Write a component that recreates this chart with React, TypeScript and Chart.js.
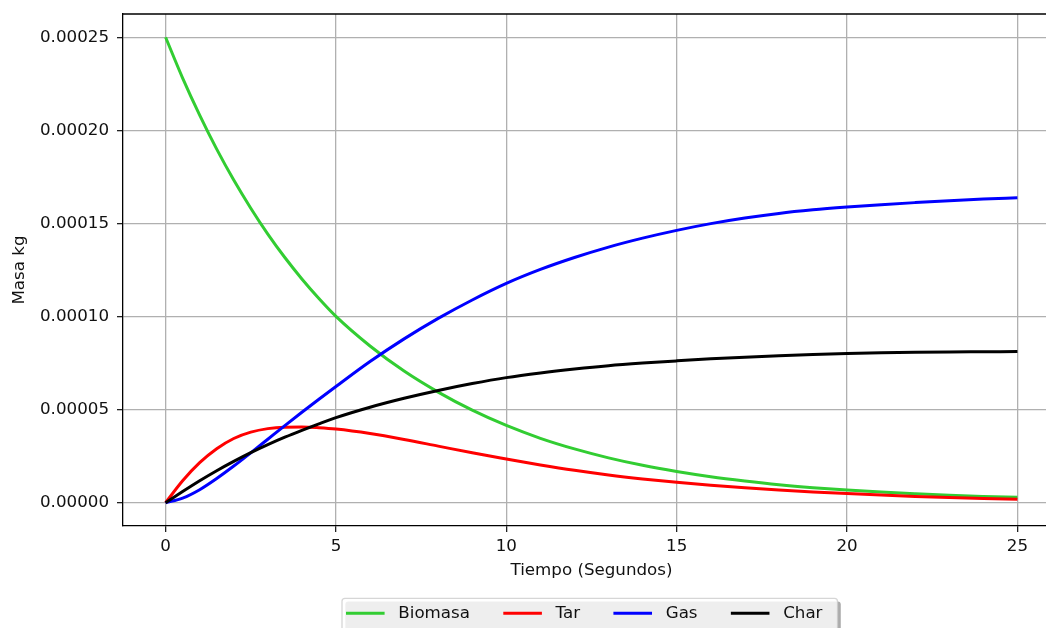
import React, { useEffect, useRef } from "react";
import { Chart, registerables } from "chart.js";

Chart.register(...registerables);

// ---- data ----
const tiempo = [0, 0.5, 1, 1.5, 2, 2.5, 3, 3.5, 4, 4.5, 5, 6, 7, 8, 9, 10, 11, 12, 13, 14, 15, 16, 17, 18, 19, 20, 21, 22, 23, 24, 25];

const biomasa = [0.00025, 0.0002281, 0.0002082, 0.0001899, 0.0001733, 0.0001582, 0.0001443, 0.0001317, 0.0001202, 0.0001097, 0.0001001,
  0.0000842, 0.0000707, 0.0000594, 0.0000497, 0.0000415, 0.0000346, 0.0000289, 0.0000241, 0.0000201, 0.0000168,
  0.000014, 0.0000117, 0.0000097, 0.0000081, 0.0000068, 0.0000057, 0.0000048, 0.000004, 0.0000034, 0.0000029];

const tar = [0, 0.0000118, 0.0000215, 0.000029, 0.0000345, 0.0000379, 0.0000398, 0.0000406, 0.0000407, 0.0000403, 0.0000396,
  0.0000372, 0.000034, 0.0000304, 0.0000268, 0.0000235, 0.0000203, 0.0000174, 0.0000149, 0.0000128, 0.000011,
  0.0000094, 0.000008, 0.0000068, 0.0000058, 0.0000049, 0.0000041, 0.0000034, 0.0000028, 0.0000023, 0.0000019];

const gas = [0, 0.0000025, 0.000007, 0.000013, 0.0000197, 0.0000268, 0.0000341, 0.0000414, 0.0000486, 0.0000556, 0.0000624,
  0.0000758, 0.000088, 0.000099, 0.0001089, 0.0001178, 0.0001253, 0.0001317, 0.0001373, 0.0001421, 0.0001463,
  0.0001499, 0.0001529, 0.0001554, 0.0001573, 0.0001588, 0.0001601, 0.0001612, 0.0001622, 0.0001631, 0.0001638];

const charValues = [0, 0.000006, 0.0000118, 0.0000172, 0.0000222, 0.0000269, 0.0000312, 0.0000352, 0.0000389, 0.0000424, 0.0000457,
  0.0000513, 0.0000561, 0.0000603, 0.000064, 0.0000672, 0.0000697, 0.0000718, 0.0000736, 0.000075, 0.0000762,
  0.0000773, 0.0000782, 0.000079, 0.0000796, 0.0000801, 0.0000805, 0.0000808, 0.000081, 0.0000811, 0.0000812];

const seriesNames = ["Biomasa", "Tar", "Gas", "Char"];
const seriesColors = ["#32cd32", "#ff0000", "#0000ff", "#000000"];

const xTicks = [0, 5, 10, 15, 20, 25];
const yTicks = [0, 0.00005, 0.0001, 0.00015, 0.0002, 0.00025];

const xTitle = "Tiempo (Segundos)";
const yTitle = "Masa kg";

const FONT = "DejaVu Sans";
const FS = 16.7;

export default function App() {
  const ref = useRef<HTMLCanvasElement>(null);

  useEffect(() => {
    const canvas = ref.current;
    if (!canvas) return;
    const all = [biomasa, tar, gas, charValues];
    const toPts = (ys: number[]) => tiempo.map((t, i) => ({ x: t, y: ys[i] }));

    const framePlugin = {
      id: "framePlugin",
      afterDraw(chart: any) {
        const ctx = chart.ctx as CanvasRenderingContext2D;
        const a = chart.chartArea;
        ctx.save();
        // top & right spines
        ctx.strokeStyle = "#000";
        ctx.lineWidth = 1.3;
        ctx.beginPath();
        ctx.moveTo(a.left, a.top);
        ctx.lineTo(a.right, a.top);
        ctx.lineTo(a.right, a.bottom);
        ctx.stroke();

        // legend
        ctx.font = `${FS}px "${FONT}"`;
        const bx = 342;
        const by = 598.3;
        const cy = 613.3;
        const items: { hx: number; tx: number }[] = [];
        let x = bx + 4;
        let lastEnd = x;
        for (let i = 0; i < seriesNames.length; i++) {
          const tx = x + 52.3;
          const w = ctx.measureText(seriesNames[i]).width;
          items.push({ hx: x, tx });
          lastEnd = tx + w;
          x = tx + w + 33.3;
        }
        const bw = lastEnd + 15 - bx;
        const bh = 44;
        ctx.fillStyle = "rgba(0,0,0,0.33)";
        ctx.beginPath();
        (ctx as any).roundRect(bx + 3.3, by + 3.3, bw, bh, 3);
        ctx.fill();
        ctx.fillStyle = "rgba(255,255,255,0.8)";
        ctx.strokeStyle = "rgba(204,204,204,0.8)";
        ctx.lineWidth = 1.3;
        ctx.beginPath();
        (ctx as any).roundRect(bx, by, bw, bh, 3);
        ctx.fill();
        ctx.stroke();
        for (let i = 0; i < seriesNames.length; i++) {
          const it = items[i];
          ctx.strokeStyle = seriesColors[i];
          ctx.lineWidth = 3;
          ctx.beginPath();
          ctx.moveTo(it.hx, cy);
          ctx.lineTo(it.hx + 38.6, cy);
          ctx.stroke();
          ctx.fillStyle = "#111";
          ctx.textBaseline = "middle";
          ctx.textAlign = "left";
          ctx.fillText(seriesNames[i], it.tx, cy);
        }
        ctx.restore();
      },
    };

    const tickFont = { family: FONT, size: FS };

    const chart = new Chart(canvas, {
      type: "line",
      data: {
        datasets: all.map((ys, i) => ({
          label: seriesNames[i],
          data: toPts(ys),
          borderColor: seriesColors[i],
          backgroundColor: seriesColors[i],
          borderWidth: 3,
          pointRadius: 0,
          fill: false,
          cubicInterpolationMode: "monotone" as const,
          order: seriesNames.length - 1 - i,
        })),
      },
      options: {
        responsive: false,
        animation: false,
        devicePixelRatio: 1,
        layout: { padding: { top: 14, right: 40, bottom: 0, left: 0 } },
        plugins: { legend: { display: false }, tooltip: { enabled: false } },
        scales: {
          x: {
            type: "linear",
            min: -1.25,
            max: 26.25,
            afterBuildTicks: (s: any) => {
              s.ticks = xTicks.map((v) => ({ value: v }));
            },
            afterFit: (s: any) => {
              s.height = 134;
              s.paddingLeft = 0;
              s.paddingRight = 0;
            },
            ticks: {
              callback: (v: any) => String(v),
              color: "#111",
              font: tickFont,
              padding: 5,
              maxRotation: 0,
              autoSkip: false,
            },
            grid: { color: "#b0b0b0", lineWidth: 1.3, tickColor: "#222", tickLength: 6, tickWidth: 1.3 },
            border: { display: true, color: "#000", width: 1.3 },
            title: {
              display: true,
              text: xTitle,
              color: "#111",
              font: tickFont,
              padding: { top: 0, bottom: 79 },
            },
          },
          y: {
            type: "linear",
            min: -0.0000125,
            max: 0.0002625,
            afterBuildTicks: (s: any) => {
              s.ticks = yTicks.map((v) => ({ value: v }));
            },
            afterFit: (s: any) => {
              s.width = 123;
              s.paddingTop = 0;
              s.paddingBottom = 0;
            },
            ticks: {
              callback: (v: any) => Number(v).toFixed(5),
              color: "#111",
              font: tickFont,
              padding: 8,
              autoSkip: false,
            },
            grid: { color: "#b0b0b0", lineWidth: 1.3, tickColor: "#222", tickLength: 6, tickWidth: 1.3 },
            border: { display: true, color: "#000", width: 1.3 },
            title: {
              display: true,
              text: yTitle,
              color: "#111",
              font: tickFont,
              padding: { top: 10, bottom: 0 },
            },
          },
        },
      },
      plugins: [framePlugin],
    } as any);

    return () => chart.destroy();
  }, []);

  return (
    <div style={{ position: "absolute", left: 0, top: 0, width: 1046, height: 628, overflow: "hidden", background: "#fff" }}>
      <canvas ref={ref} width={1100} height={660} style={{ display: "block", width: 1100, height: 660 }} />
    </div>
  );
}
